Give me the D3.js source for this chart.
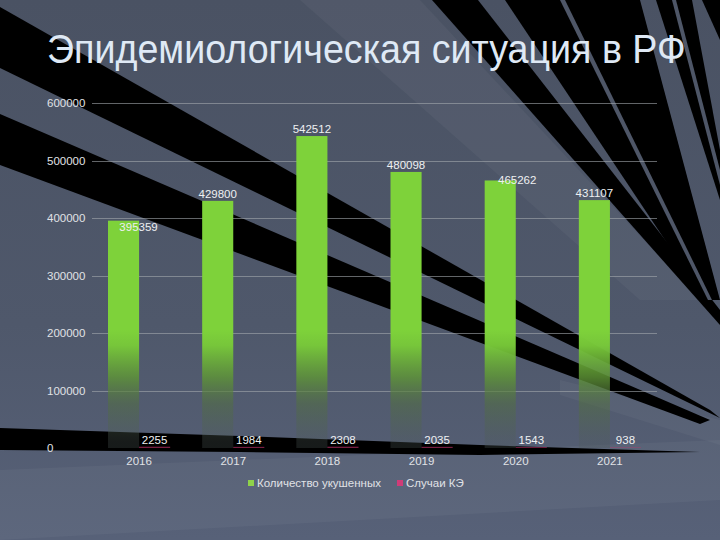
<!DOCTYPE html>
<html><head><meta charset="utf-8">
<script src="https://cdn.jsdelivr.net/npm/d3@7"></script>
<style>html,body{margin:0;padding:0;background:#4e5667;} svg{display:block}</style>
</head><body><svg id="c" width="720" height="540"></svg>
<script>
// ---- data ----
const title = "Эпидемиологическая ситуация в РФ";
const categories = ["2016", "2017", "2018", "2019", "2020", "2021"];
const bitten = [395359, 429800, 542512, 480098, 465262, 431107];
const tbeCases = [2255, 1984, 2308, 2035, 1543, 938];
const seriesNames = ["Количество укушенных", "Случаи КЭ"];
const yTicks = [0, 100000, 200000, 300000, 400000, 500000, 600000];

// ---- setup ----
const W = 720, H = 540;
const svg = d3.select("#c");
const defs = svg.append("defs");
const FONT = "'Liberation Sans', Arial, sans-serif";

// background
const bg = defs.append("linearGradient").attr("id", "bg").attr("x1", 0).attr("y1", 0).attr("x2", 0).attr("y2", 1);
bg.append("stop").attr("offset", 0).attr("stop-color", "#4a5263");
bg.append("stop").attr("offset", 0.6).attr("stop-color", "#4f586b");
bg.append("stop").attr("offset", 1).attr("stop-color", "#576178");
svg.append("rect").attr("width", W).attr("height", H).attr("fill", "url(#bg)");

const deco = svg.append("g");
const poly = pts => "M" + pts.map(p => p.join(",")).join("L") + "Z";
// soft lighter streaks
[
  [[0, 470], [720, 440], [720, 500], [0, 540]],
  [[560, 380], [720, 420], [720, 445], [560, 395]],
  [[300, 0], [420, 0], [700, 300], [640, 300]]
].forEach(p => deco.append("path").attr("d", poly(p)).attr("fill", "#ffffff").attr("opacity", 0.04));
// black rays
const black = [
  [[0, 7], [710, 410], [720, 418], [0, 68]],
  [[0, 114], [710, 420], [700, 424], [0, 165]],
  [[0, 428], [240, 436], [480, 445], [700, 452], [480, 455], [240, 452], [0, 450]],
  [[432, 0], [478, 0], [720, 310], [720, 325]],
  [[505, 0], [640, 0], [720, 300], [705, 300]],
  [[656, 0], [692, 0], [720, 150], [720, 200]],
  [[702, 0], [720, 0], [720, 40]]
];
black.forEach(p => deco.append("path").attr("d", poly(p)).attr("fill", "#000"));
[[[560, 0], [565, 0], [712, 300], [708, 300]], [[672, 0], [676, 0], [720, 170], [720, 185]]]
  .forEach(p => deco.append("path").attr("d", poly(p)).attr("fill", "#4e5667"));

// title (slightly condensed, as in the original)
const t = svg.append("text").attr("x", 0).attr("y", 0).text(title)
  .attr("font-family", FONT).attr("font-size", 40.5).attr("fill", "#dfe9f5");
const tw = t.node().getComputedTextLength();
t.attr("transform", `translate(47,63) scale(${639 / tw},1)`);

// scales
const x0 = d3.scaleBand().domain(categories).range([92, 657]).paddingInner(0.34).paddingOuter(0.17);
const x1 = d3.scaleBand().domain([0, 1]).range([0, x0.bandwidth()]);
const y = d3.scaleLinear().domain([0, 600000]).range([448, 103]);

// gridlines
svg.append("g").selectAll("line").data(yTicks.filter(d => d > 0)).join("line")
  .attr("x1", 92).attr("x2", 657).attr("y1", d => Math.round(y(d)) + 0.5).attr("y2", d => Math.round(y(d)) + 0.5)
  .attr("stroke", "#a4a8ae").attr("stroke-opacity", 0.6).attr("stroke-width", 1);

// y tick labels
svg.append("g").selectAll("text").data(yTicks).join("text")
  .attr("x", 47).attr("y", d => y(d) + 4).text(d => d)
  .attr("font-family", FONT).attr("font-size", 11.5).attr("fill", "#e0e2e6");

// bar gradient
const g = defs.append("linearGradient").attr("id", "barG").attr("gradientUnits", "userSpaceOnUse")
  .attr("x1", 0).attr("x2", 0).attr("y1", 330).attr("y2", 442);
[[0, "#7ed23a", 1], [0.14, "#78c939", 0.97], [0.42, "#5f9636", 0.82], [0.66, "#52703f", 0.52], [1, "#4e5a58", 0.3]]
  .forEach(s => g.append("stop").attr("offset", s[0]).attr("stop-color", s[1]).attr("stop-opacity", s[2]));

// bars
svg.append("g").selectAll("rect").data(bitten).join("rect")
  .attr("x", (d, i) => x0(categories[i]) + x1(0)).attr("width", x1.bandwidth())
  .attr("y", d => y(d)).attr("height", d => y(0) - y(d)).attr("fill", "url(#barG)");
svg.append("g").selectAll("rect").data(tbeCases).join("rect")
  .attr("x", (d, i) => x0(categories[i]) + x1(1)).attr("width", x1.bandwidth())
  .attr("y", d => y(d)).attr("height", d => y(0) - y(d)).attr("fill", "#c8326e").attr("opacity", 0.6);

// value labels (two labels were moved in the original)
const nudge = {"2016": [15, 13], "2020": [17, 7]};
svg.append("g").selectAll("text").data(bitten).join("text")
  .attr("x", (d, i) => x0(categories[i]) + x1(0) + x1.bandwidth() / 2 + ((nudge[categories[i]] || [0, 0])[0]))
  .attr("y", (d, i) => y(d) - 3 + ((nudge[categories[i]] || [0, 0])[1]))
  .attr("text-anchor", "middle").text(d => d)
  .attr("font-family", FONT).attr("font-size", 11.5).attr("fill", "#eef0f2");
svg.append("g").selectAll("text").data(tbeCases).join("text")
  .attr("x", (d, i) => x0(categories[i]) + x1(1) + x1.bandwidth() / 2)
  .attr("y", d => y(d) - 3)
  .attr("text-anchor", "middle").text(d => d)
  .attr("font-family", FONT).attr("font-size", 11.5).attr("fill", "#eef0f2");

// x labels
svg.append("g").selectAll("text").data(categories).join("text")
  .attr("x", d => x0(d) + x0.bandwidth() / 2).attr("y", 465).attr("text-anchor", "middle").text(d => d)
  .attr("font-family", FONT).attr("font-size", 11.5).attr("fill", "#e0e2e6");

// legend
const legColors = ["#8fd24a", "#d03c78"];
const legX = [248, 397];
seriesNames.forEach((n, i) => {
  svg.append("rect").attr("x", legX[i]).attr("y", 480).attr("width", 6).attr("height", 6).attr("fill", legColors[i]);
  svg.append("text").attr("x", legX[i] + 9).attr("y", 487).text(n)
    .attr("font-family", FONT).attr("font-size", 11.5).attr("fill", "#e0e2e6");
});
</script></body></html>
